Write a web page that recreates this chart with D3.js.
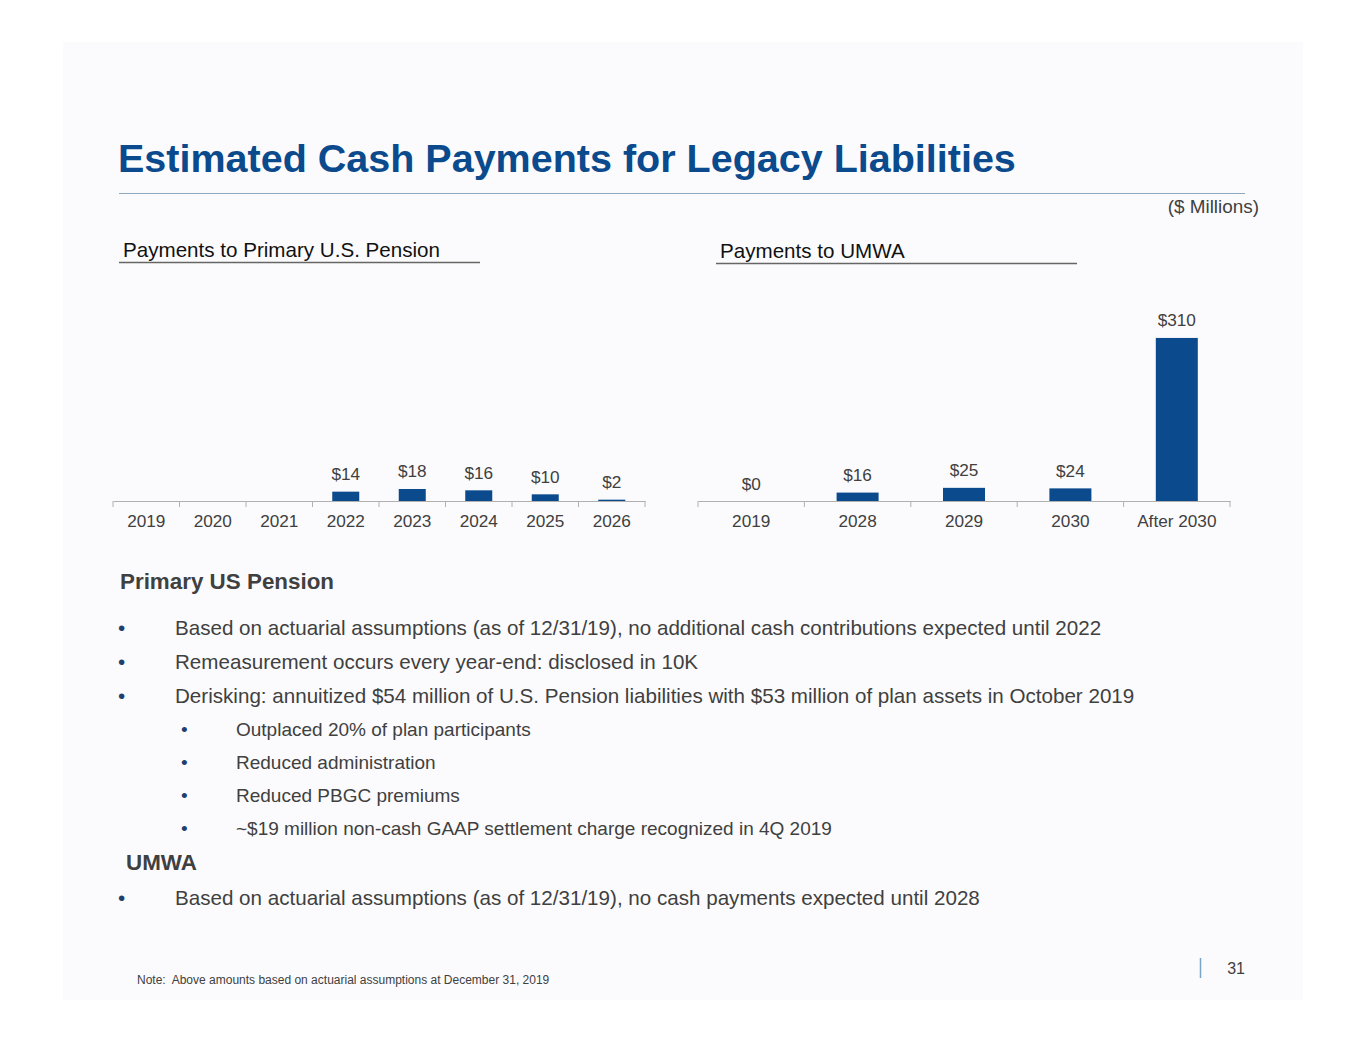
<!DOCTYPE html>
<html><head><meta charset="utf-8">
<script src="https://cdn.jsdelivr.net/npm/d3@7"></script>
<style>
html,body{margin:0;padding:0;background:#fff;}
svg{display:block;font-family:"Liberation Sans",Arial,sans-serif;}
text{white-space:pre;}
</style></head>
<body>
<svg id="c" width="1365" height="1055"></svg>
<script>
// ---- data ----
const pensionYears = ["2019","2020","2021","2022","2023","2024","2025","2026"];
const pensionValues = [null, null, null, 14, 18, 16, 10, 2];
const umwaYears = ["2019","2028","2029","2030","After 2030"];
const umwaValues = [0, 16, 25, 24, 310];

const title = "Estimated Cash Payments for Legacy Liabilities";
const pensionBullets = [
  "Based on actuarial assumptions (as of 12/31/19), no additional cash contributions expected until 2022",
  "Remeasurement occurs every year-end: disclosed in 10K",
  "Derisking: annuitized $54 million of U.S. Pension liabilities with $53 million of plan assets in October 2019"
];
const pensionSubBullets = [
  "Outplaced 20% of plan participants",
  "Reduced administration",
  "Reduced PBGC premiums",
  "~$19 million non-cash GAAP settlement charge recognized in 4Q 2019"
];
const umwaBullets = [
  "Based on actuarial assumptions (as of 12/31/19), no cash payments expected until 2028"
];

const BLUE = "#0b4a8c";
const TXT = "#404040";
const svg = d3.select("#c");

// faint slide background
svg.append("rect").attr("x",63).attr("y",42).attr("width",1240).attr("height",958)
  .attr("fill","#fbfbfd");

// title
svg.append("text").attr("x",118).attr("y",172).attr("fill",BLUE)
  .attr("font-size",39.5).attr("font-weight","bold").text(title);
svg.append("line").attr("x1",119).attr("x2",1245).attr("y1",193.5).attr("y2",193.5)
  .attr("stroke","#8eaac2").attr("stroke-width",1);

svg.append("text").attr("x",1259).attr("y",213).attr("text-anchor","end")
  .attr("font-size",18.9).attr("fill",TXT).text("($ Millions)");

// chart headers
function header(x, x2, y, txt){
  svg.append("text").attr("x",x+4).attr("y",y).attr("font-size",20.6).attr("fill","#111").text(txt);
  svg.append("line").attr("x1",x).attr("x2",x2).attr("y1",y+5.5).attr("y2",y+5.5)
    .attr("stroke","#666").attr("stroke-width",1.5);
}
header(119, 480, 257, "Payments to Primary U.S. Pension");
header(716, 1077, 258, "Payments to UMWA");

// chart builder
function chart(cats, vals, x0, x1, baseY, pxPerUnit, barW){
  const x = d3.scaleBand().domain(cats).range([x0, x1]).paddingInner(0).paddingOuter(0);
  const maxV = d3.max(vals.filter(v=>v!=null));
  const y = d3.scaleLinear().domain([0, maxV]).range([baseY, baseY - maxV*pxPerUnit]);
  const g = svg.append("g");
  // axis
  const ax = d3.axisBottom(x).tickSize(0).tickPadding(14);
  const axG = g.append("g").attr("transform",`translate(0,${baseY})`).call(ax);
  axG.select(".domain").attr("stroke","#b0b0b0").attr("stroke-width",1.2);
  axG.selectAll("text").attr("font-size",17.2).attr("fill",TXT)
    .attr("font-family","'Liberation Sans',Arial,sans-serif");
  // boundary ticks
  const bounds = cats.map(c=>x(c)).concat([x1]);
  g.selectAll(".bt").data(bounds).join("line")
    .attr("x1",d=>d).attr("x2",d=>d).attr("y1",baseY).attr("y2",baseY+6)
    .attr("stroke","#b0b0b0").attr("stroke-width",1);
  const data = cats.map((c,i)=>({c, v: vals[i]})).filter(d=>d.v!=null);
  g.selectAll(".bar").data(data).join("rect")
    .attr("x",d=>x(d.c)+x.bandwidth()/2-barW/2).attr("width",barW)
    .attr("y",d=>y(d.v)).attr("height",d=>baseY-y(d.v)).attr("fill",BLUE);
  g.selectAll(".lbl").data(data).join("text")
    .attr("x",d=>x(d.c)+x.bandwidth()/2).attr("y",d=>y(d.v)-11.5)
    .attr("text-anchor","middle").attr("font-size",17.2).attr("fill",TXT)
    .text(d=>"$"+d.v);
}
chart(pensionYears, pensionValues, 113, 645, 501, 0.667, 27);
chart(umwaYears, umwaValues, 698, 1230, 501, 0.526, 42);

// text sections
svg.append("text").attr("x",120).attr("y",589).attr("font-size",22.4).attr("font-weight","bold")
  .attr("fill",TXT).text("Primary US Pension");

function bullets(items, bx, tx, y0, dy, fs){
  items.forEach((t,i)=>{
    const y = y0 + i*dy;
    svg.append("text").attr("x",bx).attr("y",y).attr("font-size",fs).attr("fill","#1f3f6e").text("•");
    svg.append("text").attr("x",tx).attr("y",y).attr("font-size",fs).attr("fill",TXT).text(t);
  });
}
bullets(pensionBullets, 118, 175, 634.5, 34, 20.6);
bullets(pensionSubBullets, 181, 236, 736, 33, 19);

svg.append("text").attr("x",126).attr("y",870).attr("font-size",22.4).attr("font-weight","bold")
  .attr("fill",TXT).text("UMWA");
bullets(umwaBullets, 118, 175, 904.5, 34, 20.6);

// footer
svg.append("text").attr("x",137).attr("y",984).attr("font-size",12).attr("fill",TXT)
  .text("Note:  Above amounts based on actuarial assumptions at December 31, 2019");
svg.append("line").attr("x1",1200.5).attr("x2",1200.5).attr("y1",958).attr("y2",978)
  .attr("stroke","#7aa3c8").attr("stroke-width",1.5);
svg.append("text").attr("x",1245).attr("y",974).attr("text-anchor","end").attr("font-size",16)
  .attr("fill",TXT).text("31");
</script>
</body></html>
